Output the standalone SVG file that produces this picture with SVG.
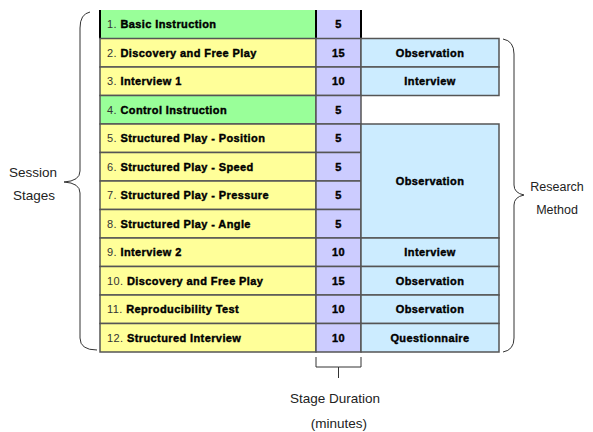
<svg xmlns="http://www.w3.org/2000/svg" width="593" height="432" viewBox="0 0 593 432">
<style>
.g{fill:#99FF99}.y{fill:#FFFF99}.p{fill:#CCCCFF}.b{fill:#CCECFF}
.cell{stroke:#555;stroke-width:1.5}
.t{font-family:"Liberation Sans",Arial,sans-serif;font-size:11px;font-weight:bold;letter-spacing:0.4px;fill:#000;stroke:#000;stroke-width:0.4}
.n{font-weight:normal;fill:#333;stroke:none}
.c{text-anchor:middle}
.lbl{font-family:"Liberation Sans",Arial,sans-serif;font-size:13.5px;fill:#222}
.br{fill:none;stroke:#333;stroke-width:1}
</style>
<rect width="593" height="432" fill="#fff"/>
<g id="row1">
<rect class="g" x="100" y="10" width="216" height="28.5"/>
<rect class="p" x="316" y="10" width="45" height="28.5"/>
<path d="M100,10V38.5M316,10V38.5M361,10V38.5" stroke="#000" stroke-width="2"/>
<text class="t" x="107" y="28"><tspan class="n">1. </tspan>Basic Instruction</text>
<text class="t c" x="338.5" y="28">5</text>
</g>
<g id="row2">
<rect class="y cell" x="100" y="38.5" width="216" height="28.5"/>
<rect class="p cell" x="316" y="38.5" width="45" height="28.5"/>
<rect class="b cell" x="361" y="38.5" width="138" height="28.5"/>
<text class="t" x="107" y="56.5"><tspan class="n">2. </tspan>Discovery and Free Play</text>
<text class="t c" x="338.5" y="56.5">15</text>
<text class="t c" x="430" y="56.5">Observation</text>
</g>
<g id="row3">
<rect class="y cell" x="100" y="67" width="216" height="28.5"/>
<rect class="p cell" x="316" y="67" width="45" height="28.5"/>
<rect class="b cell" x="361" y="67" width="138" height="28.5"/>
<text class="t" x="107" y="85"><tspan class="n">3. </tspan>Interview 1</text>
<text class="t c" x="338.5" y="85">10</text>
<text class="t c" x="430" y="85">Interview</text>
</g>
<g id="row4">
<rect class="g cell" x="100" y="95.5" width="216" height="28.5"/>
<rect class="p cell" x="316" y="95.5" width="45" height="28.5"/>
<text class="t" x="107" y="113.5"><tspan class="n">4. </tspan>Control Instruction</text>
<text class="t c" x="338.5" y="113.5">5</text>
</g>
<g id="row5">
<rect class="y cell" x="100" y="124" width="216" height="28.5"/>
<rect class="p cell" x="316" y="124" width="45" height="28.5"/>
<text class="t" x="107" y="142"><tspan class="n">5. </tspan>Structured Play - Position</text>
<text class="t c" x="338.5" y="142">5</text>
</g>
<g id="row6">
<rect class="y cell" x="100" y="152.5" width="216" height="28.5"/>
<rect class="p cell" x="316" y="152.5" width="45" height="28.5"/>
<text class="t" x="107" y="170.5"><tspan class="n">6. </tspan>Structured Play - Speed</text>
<text class="t c" x="338.5" y="170.5">5</text>
</g>
<g id="row7">
<rect class="y cell" x="100" y="181" width="216" height="28.5"/>
<rect class="p cell" x="316" y="181" width="45" height="28.5"/>
<text class="t" x="107" y="199"><tspan class="n">7. </tspan>Structured Play - Pressure</text>
<text class="t c" x="338.5" y="199">5</text>
</g>
<g id="row8">
<rect class="y cell" x="100" y="209.5" width="216" height="28.5"/>
<rect class="p cell" x="316" y="209.5" width="45" height="28.5"/>
<text class="t" x="107" y="227.5"><tspan class="n">8. </tspan>Structured Play - Angle</text>
<text class="t c" x="338.5" y="227.5">5</text>
</g>
<g id="obs58">
<rect class="b cell" x="361" y="124" width="138" height="114"/>
<text class="t c" x="430" y="185">Observation</text>
</g>
<g id="row9">
<rect class="y cell" x="100" y="238" width="216" height="28.5"/>
<rect class="p cell" x="316" y="238" width="45" height="28.5"/>
<rect class="b cell" x="361" y="238" width="138" height="28.5"/>
<text class="t" x="107" y="256"><tspan class="n">9. </tspan>Interview 2</text>
<text class="t c" x="338.5" y="256">10</text>
<text class="t c" x="430" y="256">Interview</text>
</g>
<g id="row10">
<rect class="y cell" x="100" y="266.5" width="216" height="28.5"/>
<rect class="p cell" x="316" y="266.5" width="45" height="28.5"/>
<rect class="b cell" x="361" y="266.5" width="138" height="28.5"/>
<text class="t" x="107" y="284.5"><tspan class="n">10. </tspan>Discovery and Free Play</text>
<text class="t c" x="338.5" y="284.5">15</text>
<text class="t c" x="430" y="284.5">Observation</text>
</g>
<g id="row11">
<rect class="y cell" x="100" y="295" width="216" height="28.5"/>
<rect class="p cell" x="316" y="295" width="45" height="28.5"/>
<rect class="b cell" x="361" y="295" width="138" height="28.5"/>
<text class="t" x="107" y="313"><tspan class="n">11. </tspan>Reproducibility Test</text>
<text class="t c" x="338.5" y="313">10</text>
<text class="t c" x="430" y="313">Observation</text>
</g>
<g id="row12">
<rect class="y cell" x="100" y="323.5" width="216" height="28.5"/>
<rect class="p cell" x="316" y="323.5" width="45" height="28.5"/>
<rect class="b cell" x="361" y="323.5" width="138" height="28.5"/>
<text class="t" x="107" y="341.5"><tspan class="n">12. </tspan>Structured Interview</text>
<text class="t c" x="338.5" y="341.5">10</text>
<text class="t c" x="430" y="341.5">Questionnaire</text>
</g>
<g id="connectors">
<path class="br" d="M90,12Q80,14 80,28V171Q80,181 64,182Q80,183 80,193V338Q80,350 97,350"/>
<path class="br" d="M503,39Q514,41 514,54V185Q514,193 524,195Q514,197 514,205V338Q514,350 503,352"/>
<path class="br" d="M316,357V367H338.5V378M338.5,367H361V357"/>
</g>
<g id="labels">
<text class="lbl c" x="33" y="177">Session</text>
<text class="lbl c" x="34" y="200">Stages</text>
<text class="lbl c" x="557" y="191" style="font-size:12.5px">Research</text>
<text class="lbl c" x="557" y="214" style="font-size:12.5px">Method</text>
<text class="lbl c" x="335" y="403">Stage Duration</text>
<text class="lbl c" x="339" y="428">(minutes)</text>
</g>
</svg>
